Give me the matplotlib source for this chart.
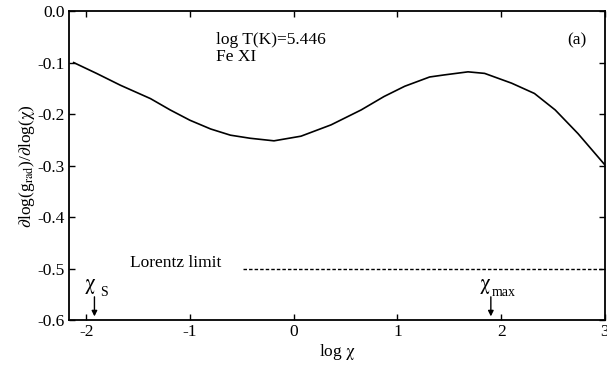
import matplotlib
matplotlib.use('Agg')
import matplotlib.pyplot as plt

plt.rcParams['font.family'] = ['Liberation Serif', 'DejaVu Serif']
# upright greek letters in math text
plt.rcParams['mathtext.fontset'] = 'custom'
plt.rcParams['mathtext.rm'] = 'STIXGeneral'
plt.rcParams['mathtext.it'] = 'STIXGeneral'
plt.rcParams['mathtext.bf'] = 'STIXGeneral:bold'

# slope of radiative acceleration vs log chi
log_chi = [-2.12, -1.90, -1.67, -1.38, -1.19, -1.00, -0.80, -0.61, -0.42, -0.19,
           0.07, 0.36, 0.65, 0.87, 1.07, 1.23, 1.31, 1.45, 1.68, 1.84, 2.10,
           2.32, 2.52, 2.74, 3.0]
dlog_g = [-0.100, -0.121, -0.144, -0.170, -0.192, -0.212, -0.229, -0.241, -0.247,
          -0.252, -0.243, -0.221, -0.192, -0.166, -0.146, -0.134, -0.128, -0.124,
          -0.118, -0.121, -0.140, -0.160, -0.192, -0.238, -0.299]

lorentz_x = [-0.49, 3.0]
lorentz_y = [-0.5, -0.5]

chi_s = -1.92
chi_max = 1.90

fig = plt.figure(figsize=(6.07, 3.66), dpi=100)
ax = fig.add_axes([0.1137, 0.1257, 0.883, 0.844])

ax.plot(log_chi, dlog_g, color='black', lw=1.2, solid_joinstyle='round')
ax.plot(lorentz_x, lorentz_y, color='black', lw=1.0, ls=(0, (2.5, 1.5)))

ax.set_xlim(-2.165, 3.0)
ax.set_ylim(-0.6, 0.0)
ax.set_xticks([-2, -1, 0, 1, 2, 3])
ax.set_yticks([0.0, -0.1, -0.2, -0.3, -0.4, -0.5, -0.6])
ax.set_xticklabels(['-2', '-1', '0', '1', '2', '3'])
ax.set_yticklabels(['0.0', '-0.1', '-0.2', '-0.3', '-0.4', '-0.5', '-0.6'])
ax.tick_params(direction='in', top=True, right=True, length=4, width=1.0,
               labelsize=12.5, pad=3)
for s in ax.spines.values():
    s.set_linewidth(1.3)

ax.set_xlabel(r'log $\chi$', fontsize=12.5, labelpad=1)
ax.set_ylabel(r'$\partial$log(g$_{\rm rad}$)/$\partial$log($\chi$)',
              fontsize=12.5, labelpad=0)

ax.text(-0.744, -0.072, 'log T(K)=5.446\nFe XI', fontsize=12.5, va='center',
        ha='left', linespacing=1.1)
ax.text(2.73, -0.057, '(a)', fontsize=12.5, ha='center', va='center')
ax.text(-1.575, -0.49, 'Lorentz limit', fontsize=12.5, ha='left', va='center')

# arrows marking chi_s and chi_max
ax.annotate('', xy=(chi_s, -0.593), xytext=(chi_s, -0.555),
            arrowprops=dict(arrowstyle='-|>', color='black', lw=1.0,
                            mutation_scale=8, shrinkA=0, shrinkB=0))
ax.annotate('', xy=(chi_max, -0.593), xytext=(chi_max, -0.555),
            arrowprops=dict(arrowstyle='-|>', color='black', lw=1.0,
                            mutation_scale=8, shrinkA=0, shrinkB=0))
ax.text(chi_s - 0.04, -0.535, r'$\chi$', fontsize=15, ha='center', va='center')
ax.text(chi_s + 0.05, -0.546, 'S', fontsize=10, ha='left', va='center')
ax.text(chi_max - 0.06, -0.535, r'$\chi$', fontsize=15, ha='center', va='center')
ax.text(chi_max + 0.01, -0.546, 'max', fontsize=10, ha='left', va='center')

fig.savefig('out.png', dpi=100)
